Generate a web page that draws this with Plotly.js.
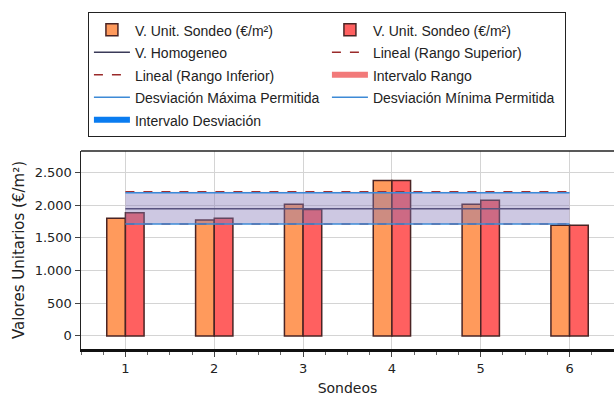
<!DOCTYPE html>
<html>
<head>
<meta charset="utf-8">
<script src="https://cdn.plot.ly/plotly-3.0.1.min.js"></script>
<style>html,body{margin:0;padding:0;background:#fff;}#chart{width:614px;height:396px;}</style>
</head>
<body>
<div id="chart"></div>
<script>
const sondeos = [1, 2, 3, 4, 5, 6];
const sondeoA = [1800, 1775, 2015, 2380, 2015, 1695];
const sondeoB = [1885, 1800, 1935, 2380, 2075, 1695];
const lineX = [1, 6];
const homogeneo = [1946, 1946];
const rangoSuperior = [2206, 2206];
const rangoInferior = [1712, 1712];
const desvMaxima = [2190, 2190];
const desvMinima = [1712, 1712];
const yTicks = [0, 500, 1000, 1500, 2000, 2500];
const seriesNames = [
  'V. Unit. Sondeo (€/m²)', 'V. Unit. Sondeo (€/m²)', 'V. Homogeneo',
  'Lineal (Rango Superior)', 'Lineal (Rango Inferior)', 'Intervalo Rango',
  'Desviación Máxima Permitida', 'Desviación Mínima Permitida', 'Intervalo Desviación'
];

const lg = (s) => '<span style="font-size:14px">' + s + '</span>';
const barLine = {color: '#4a2424', width: 1.5};
const traces = [
  {type: 'bar', name: lg(seriesNames[0]), x: sondeos, y: sondeoA,
   marker: {color: '#ff9a5c', line: barLine}},
  {type: 'bar', name: lg(seriesNames[1]), x: sondeos, y: sondeoB,
   marker: {color: '#ff6060', line: barLine}},
  {type: 'scatter', mode: 'lines', name: lg(seriesNames[2]), x: lineX, y: homogeneo,
   line: {color: '#3a3a58', width: 1.5}},
  {type: 'scatter', mode: 'lines', name: lg(seriesNames[3]), x: lineX, y: rangoSuperior,
   line: {color: '#9a2a2a', width: 1.5, dash: 'dash'}},
  {type: 'scatter', mode: 'lines', name: lg(seriesNames[4]), x: lineX, y: rangoInferior,
   line: {color: '#9a2a2a', width: 1.5, dash: 'dash'}},
  {type: 'scatter', mode: 'none', name: seriesNames[5], x: lineX, y: rangoSuperior,
   fill: 'tonexty', fillcolor: 'rgba(240,128,128,0.28)', showlegend: false},
  {type: 'scatter', mode: 'none', name: lg(seriesNames[5]), x: [null], y: [null],
   fill: 'toself', fillcolor: '#f27a7a'},
  {type: 'scatter', mode: 'lines', name: lg(seriesNames[6]), x: lineX, y: desvMaxima,
   line: {color: '#3d8ad6', width: 1.5}},
  {type: 'scatter', mode: 'lines', name: lg(seriesNames[7]), x: lineX, y: desvMinima,
   line: {color: '#3d8ad6', width: 1.5}},
  {type: 'scatter', mode: 'none', name: seriesNames[8], x: lineX, y: desvMaxima,
   fill: 'tonexty', fillcolor: 'rgba(0,110,255,0.18)', showlegend: false},
  {type: 'scatter', mode: 'none', name: lg(seriesNames[8]), x: [null], y: [null],
   fill: 'toself', fillcolor: '#0a7cf0'}
];

const font = {family: 'DejaVu Sans, Verdana, sans-serif', size: 13, color: '#222'};
const layout = {
  width: 614, height: 396,
  margin: {l: 81, r: 0, t: 151, b: 47, pad: 0},
  paper_bgcolor: '#fff', plot_bgcolor: '#fff',
  font: font,
  separators: ',.',
  barmode: 'group', bargap: 0.58, bargroupgap: 0,
  showlegend: true,
  legend: {
    orientation: 'h', x: 0.013, xanchor: 'left', y: 1.70, yanchor: 'top',
    bgcolor: '#fff', bordercolor: '#222', borderwidth: 1,
    entrywidth: 187, entrywidthmode: 'pixels', itemwidth: 36,
    font: {family: 'Liberation Sans, Arial, sans-serif', size: 15, color: '#222'},
    traceorder: 'normal'
  },
  xaxis: {
    range: [0.5, 6.5], tickvals: sondeos, ticktext: sondeos.map(String),
    showgrid: true, gridcolor: '#d4d4d4', gridwidth: 1,
    showline: true, linecolor: '#111', linewidth: 3,
    ticks: 'outside', ticklen: 5, tickcolor: '#444', tickwidth: 1,
    minor: {dtick: 0.25, ticks: 'outside', ticklen: 3, tickcolor: '#666', showgrid: false},
    zeroline: false,
    title: {text: 'Sondeos', font: {size: 14}, standoff: 10},
    fixedrange: true
  },
  yaxis: {
    range: [-200, 2830], tickvals: yTicks, tickformat: ',',
    showgrid: true, gridcolor: '#d4d4d4', gridwidth: 1,
    showline: true, linecolor: '#222', linewidth: 1.5,
    ticks: 'outside', ticklen: 5, tickcolor: '#444',
    zeroline: false,
    title: {text: 'Valores Unitarios (€/m²)', font: {size: 15}, standoff: 6},
    fixedrange: true
  },
  shapes: [
    {type: 'line', xref: 'paper', yref: 'paper', x0: 0, x1: 1, y0: 1, y1: 1,
     line: {color: '#222', width: 1.5}}
  ]
};

Plotly.newPlot('chart', traces, layout, {staticPlot: true, displayModeBar: false});
</script>
</body>
</html>
